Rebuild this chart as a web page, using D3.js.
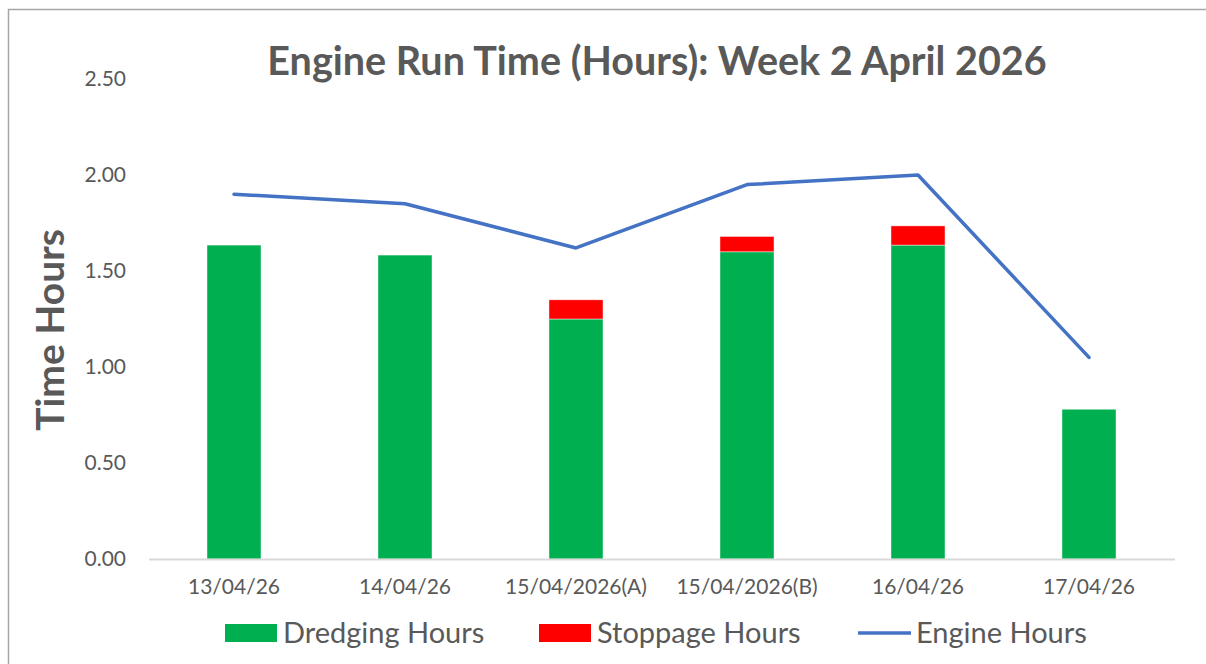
<!DOCTYPE html>
<html>
<head>
<meta charset="utf-8">
<script src="https://cdn.jsdelivr.net/npm/d3@7"></script>
<style>
  body { margin: 0; background: #fff; }
  svg { font-family: Lato, "Open Sans", sans-serif; }
</style>
</head>
<body>
<div id="chart"></div>
<script>
// chart data
var days = ["13/04/26", "14/04/26", "15/04/2026(A)", "15/04/2026(B)", "16/04/26", "17/04/26"];
var dredgingHours = [1.635, 1.583, 1.25, 1.60, 1.635, 0.78];
var stoppageHours = [0, 0, 0.10, 0.08, 0.10, 0];
var engineHours = [1.90, 1.85, 1.62, 1.95, 2.00, 1.05];
var yTicks = [0, 0.5, 1, 1.5, 2, 2.5];

var width = 1206, height = 664;
var margin = { top: 79, right: 31.5, bottom: 105, left: 148.5 };
var textColor = "#595959";
var fontFamily = "Lato, 'Open Sans', sans-serif";

var svg = d3.select("#chart").append("svg")
    .attr("width", width)
    .attr("height", height);

// chart frame (only top and left edges show in the picture)
svg.append("path")
    .attr("d", "M8.5," + height + "V9.5H" + width)
    .attr("fill", "none")
    .attr("stroke", "#a6a6a6")
    .attr("stroke-width", 1.5);

var x = d3.scaleBand()
    .domain(days)
    .range([margin.left, width - margin.right])
    .paddingInner(0.684)
    .paddingOuter(0.342);

var y = d3.scaleLinear()
    .domain([0, 2.5])
    .range([height - margin.bottom, margin.top]);

// y axis labels, no line
var yAxis = d3.axisLeft(y)
    .tickValues(yTicks)
    .tickFormat(d3.format(".2f"))
    .tickSize(0)
    .tickPadding(0);

var yg = svg.append("g")
    .attr("transform", "translate(126,0)")
    .call(yAxis)
    .attr("font-family", fontFamily)
    .attr("font-size", 21);
yg.select(".domain").remove();
yg.selectAll("text").attr("fill", textColor);

// stacked bars
var stackData = days.map(function (d, i) {
    return { day: d, dredging: dredgingHours[i], stoppage: stoppageHours[i] };
});
var stack = d3.stack().keys(["dredging", "stoppage"]);
var series = stack(stackData);
var colors = { dredging: "#00b050", stoppage: "#ff0000" };

svg.selectAll(".series")
    .data(series)
    .enter().append("g")
    .attr("class", "series")
    .attr("fill", function (s) { return colors[s.key]; })
    .selectAll("rect")
    .data(function (s) { return s.filter(function (p) { return p[1] - p[0] > 0; }); })
    .enter().append("rect")
    .attr("x", function (p) { return x(p.data.day); })
    .attr("width", x.bandwidth())
    .attr("y", function (p) { return y(p[1]); })
    .attr("height", function (p) { return y(p[0]) - y(p[1]); })
    .attr("stroke", "#ffffff")
    .attr("stroke-opacity", 0.6)
    .attr("stroke-width", 0.75);

// x axis
var xAxis = d3.axisBottom(x).tickSize(0).tickPadding(20);
var xg = svg.append("g")
    .attr("transform", "translate(0," + (height - margin.bottom) + ")")
    .call(xAxis)
    .attr("font-family", fontFamily)
    .attr("font-size", 21);
xg.select(".domain")
    .attr("stroke", "#d9d9d9")
    .attr("stroke-width", 2);
xg.selectAll("text").attr("fill", textColor);

// engine hours line
var line = d3.line()
    .x(function (d, i) { return x(days[i]) + x.bandwidth() / 2; })
    .y(function (d) { return y(d); });

svg.append("path")
    .datum(engineHours)
    .attr("d", line)
    .attr("fill", "none")
    .attr("stroke", "#4472c4")
    .attr("stroke-width", 3.5)
    .attr("stroke-linejoin", "round")
    .attr("stroke-linecap", "round");

// title
svg.append("text")
    .attr("x", 657)
    .attr("y", 75)
    .attr("text-anchor", "middle")
    .attr("fill", textColor)
    .style("font-size", "39.5px")
    .style("font-weight", "bold")
    .text("Engine Run Time (Hours): Week 2 April 2026");

// y axis title
svg.append("text")
    .attr("transform", "translate(64,330) rotate(-90)")
    .attr("text-anchor", "middle")
    .attr("fill", textColor)
    .style("font-size", "39px")
    .style("font-weight", "bold")
    .text("Time Hours");

// legend
var legendItems = [
    { name: "Dredging Hours", type: "rect", color: "#00b050", x: 225 },
    { name: "Stoppage Hours", type: "rect", color: "#ff0000", x: 539 },
    { name: "Engine Hours", type: "line", color: "#4472c4", x: 858 }
];

var legend = svg.selectAll(".legend")
    .data(legendItems)
    .enter().append("g")
    .attr("class", "legend")
    .attr("transform", function (d) { return "translate(" + d.x + ",633)"; });

legend.filter(function (d) { return d.type === "rect"; })
    .append("rect")
    .attr("x", 0)
    .attr("y", -9)
    .attr("width", 52)
    .attr("height", 18)
    .attr("fill", function (d) { return d.color; });

legend.filter(function (d) { return d.type === "line"; })
    .append("line")
    .attr("x1", 0)
    .attr("x2", 53)
    .attr("y1", 0)
    .attr("y2", 0)
    .attr("stroke", function (d) { return d.color; })
    .attr("stroke-width", 3.5);

legend.append("text")
    .attr("x", 58)
    .attr("y", 0)
    .attr("dy", "0.35em")
    .attr("fill", textColor)
    .style("font-size", "29px")
    .text(function (d) { return d.name; });
</script>
</body>
</html>
